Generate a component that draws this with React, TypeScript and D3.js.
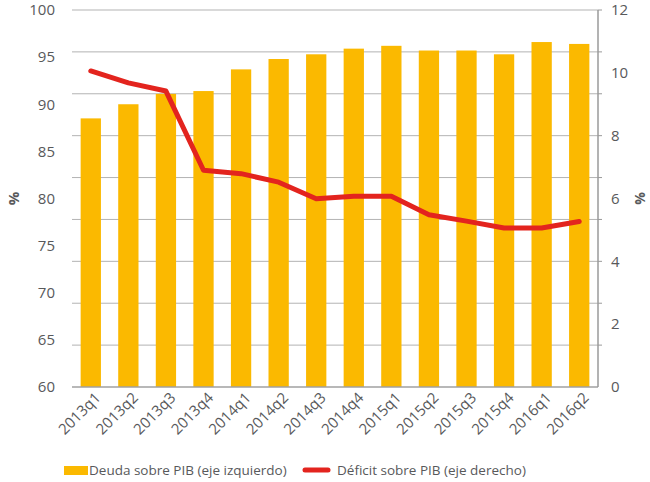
import React from 'react';
import * as d3 from 'd3';

// Deuda (barras, eje izquierdo) y déficit (línea, eje derecho) sobre PIB por trimestre.

const QUARTERS = [
  '2013q1', '2013q2', '2013q3', '2013q4',
  '2014q1', '2014q2', '2014q3', '2014q4',
  '2015q1', '2015q2', '2015q3', '2015q4',
  '2016q1', '2016q2',
];
const DEUDA = [88.5, 90.0, 91.1, 91.4, 93.7, 94.8, 95.3, 95.9, 96.2, 95.7, 95.7, 95.3, 96.6, 96.4];
const DEFICIT = [10.06, 9.68, 9.42, 6.9, 6.79, 6.52, 5.99, 6.07, 6.07, 5.48, 5.28, 5.06, 5.06, 5.27];
const LEFT_TICKS = [60, 65, 70, 75, 80, 85, 90, 95, 100];
const RIGHT_TICKS = [0, 2, 4, 6, 8, 10, 12];
const GRID_STEPS = 9;
const LEGEND = ['Deuda sobre PIB (eje izquierdo)', 'Déficit sobre PIB (eje derecho)'];

const W = 650;
const H = 482;
const PLOT = { left: 72, right: 598, top: 10, bottom: 387 };
const BAR_COLOR = '#fbb900';
const LINE_COLOR = '#e3241e';
const TEXT_COLOR = '#58595b';
const FONT = '"Open Sans", "Noto Sans", sans-serif';

export default function App() {
  const x = d3.scaleBand<string>()
    .domain(QUARTERS)
    .range([PLOT.left, PLOT.right])
    .paddingInner(0.46)
    .paddingOuter(0.23);
  const yLeft = d3.scaleLinear().domain([60, 100]).range([PLOT.bottom, PLOT.top]);
  const yRight = d3.scaleLinear().domain([0, 12]).range([PLOT.bottom, PLOT.top]);
  const yGrid = d3.scaleLinear().domain([0, GRID_STEPS]).range([PLOT.bottom, PLOT.top]);

  const cx = (q: string) => (x(q) as number) + x.bandwidth() / 2;

  const line = d3.line<number>()
    .x((_, i) => cx(QUARTERS[i]))
    .y(d => yRight(d));

  return (
    <svg width={W} height={H} style={{ position: 'absolute', left: 0, top: 0, fontFamily: FONT }}>
      {/* líneas de cuadrícula */}
      {d3.range(1, GRID_STEPS + 1).map(i => (
        <g key={i}>
          <line x1={PLOT.left} x2={PLOT.right} y1={yGrid(i)} y2={yGrid(i)} stroke="#b3b3b3" strokeWidth={1} />
          <line x1={PLOT.right} x2={PLOT.right + 4} y1={yGrid(i)} y2={yGrid(i)} stroke="#9a9a9a" strokeWidth={1} />
        </g>
      ))}

      {/* barras */}
      {QUARTERS.map((q, i) => (
        <rect key={q} x={x(q)} y={yLeft(DEUDA[i])} width={x.bandwidth()}
          height={yLeft(60) - yLeft(DEUDA[i])} fill={BAR_COLOR} />
      ))}

      {/* ejes */}
      <line x1={PLOT.left} x2={PLOT.right} y1={PLOT.bottom} y2={PLOT.bottom} stroke="#a0a0a0" strokeWidth={1.5} />
      <line x1={PLOT.right} x2={PLOT.right} y1={PLOT.top} y2={PLOT.bottom} stroke="#9a9a9a" strokeWidth={1.5} />

      {/* línea de déficit */}
      <path d={line(DEFICIT) || ''} fill="none" stroke={LINE_COLOR} strokeWidth={5}
        strokeLinejoin="round" strokeLinecap="round" />

      {/* etiquetas eje izquierdo */}
      {LEFT_TICKS.map(t => (
        <text key={t} x={55} y={yLeft(t)} dy="0.35em" textAnchor="end" fontSize={15} fill={TEXT_COLOR}>{t}</text>
      ))}
      {/* etiquetas eje derecho */}
      {RIGHT_TICKS.map(t => (
        <text key={t} x={611} y={yRight(t)} dy="0.35em" textAnchor="start" fontSize={15} fill={TEXT_COLOR}>{t}</text>
      ))}

      {/* etiquetas eje x */}
      {QUARTERS.map(q => (
        <text key={q} transform={`translate(${cx(q) + 7},${PLOT.bottom + 8}) rotate(-45)`}
          textAnchor="end" dy="0.35em" fontSize={15} fill={TEXT_COLOR}>{q}</text>
      ))}

      {/* títulos de ejes */}
      <text transform={`translate(19,${(PLOT.top + PLOT.bottom) / 2}) rotate(-90)`} textAnchor="middle"
        fontSize={15} fontWeight="bold" fill={TEXT_COLOR}>%</text>
      <text transform={`translate(645,${(PLOT.top + PLOT.bottom) / 2}) rotate(-90)`} textAnchor="middle"
        fontSize={14} fontWeight="bold" fill={TEXT_COLOR}>%</text>

      {/* leyenda */}
      <rect x={64} y={466} width={24} height={9} fill={BAR_COLOR} />
      <text x={89} y={470} dy="0.35em" fontSize={13.5} fill={TEXT_COLOR}>{LEGEND[0]}</text>
      <line x1={305} x2={328} y1={470} y2={470} stroke={LINE_COLOR} strokeWidth={5} strokeLinecap="round" />
      <text x={337} y={470} dy="0.35em" fontSize={13.5} fill={TEXT_COLOR}>{LEGEND[1]}</text>
    </svg>
  );
}
